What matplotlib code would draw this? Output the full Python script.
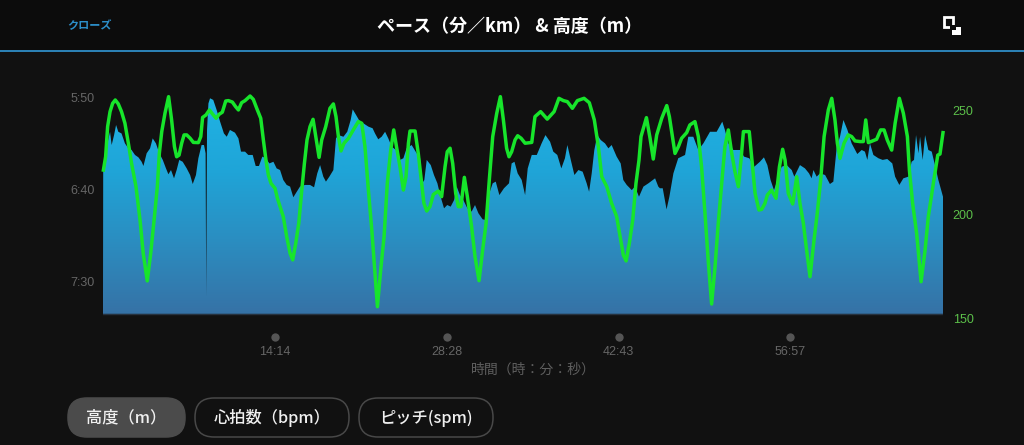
import matplotlib
matplotlib.use("Agg")
import matplotlib.pyplot as plt
import numpy as np
from matplotlib.patches import FancyBboxPatch, Rectangle
from matplotlib.colors import LinearSegmentedColormap

plt.rcParams['font.family'] = ['Noto Sans CJK JP', 'DejaVu Sans']

title = "ペース（分／km） & 高度（m）"
close_label = "クローズ"
xlabel = "時間（時：分：秒）"
tab_labels = ["高度（m）", "心拍数（bpm）", "ピッチ(spm)"]
pace_ticks = [350, 400, 450]
pace_tick_labels = ["5:50", "6:40", "7:30"]
elev_ticks = [150, 200, 250]
time_ticks = [854, 1708, 2563, 3417]
time_tick_labels = ["14:14", "28:28", "42:43", "56:57"]
pace_base = 466.8

pace_t = [0,1,10,22,35,43,55,65,76,92,109,126,142,159,176,192,201,217,234,247,263,280,297,313,325,338,353,366,379,396,416,433,446,462,474,490,502,510,513,517,524,532,548,565,582,601,615,631,656,673,686,706,722,744,759,775,792,809,827,847,863,880,896,913,930,946,963,979,1004,1029,1049,1065,1079,1095,1108,1125,1145,1158,1170,1195,1214,1231,1241,1258,1277,
1294,1319,1340,1352,1368,1385,1402,1418,1435,1456,1476,1493,1509,1534,1559,1576,1587,1597,1609,1629,1645,1662,1678,1695,1711,1728,1745,1758,1774,1791,1811,1832,1849,1866,1887,1907,1920,1937,1952,1970,1993,2018,2031,2045,2061,2081,2098,2111,2131,2156,2180,2199,2222,2238,2258,2278,2296,2308,2325,2343,2363,2384,2404,2416,2429,2442,2457,2474,2495,2512,2528,2553,2573,2586,2603,2628,2644,2664,2686,2711,2744,2760,
2768,2782,2801,2815,2835,2859,2893,2909,2934,2959,2984,3017,3050,3078,3091,3108,3133,3166,3186,3212,3237,3265,3285,3302,3318,3335,3352,3373,3398,3423,3436,3464,3489,3509,3522,3531,3547,3564,3589,3613,3630,3647,3663,3680,3700,3721,3749,3771,3787,3799,3812,3829,3854,3875,3898,3923,3937,3958,3978,4003,4019,4031,4041,4053,4061,4074,4086,4102,4119,4135,4152,4175]
pace_v = [457.4,387.7,386.8,374.1,367.8,375,369.6,364.1,367.8,368.7,374.1,376.8,377.7,380.4,381.7,384.1,386.4,379.5,376.8,371.4,374.1,379.5,383.1,387.7,390.9,388.6,393.1,388.6,383.1,384.1,387.7,391.3,396.2,391.3,382.2,375,375,379.5,457.4,366.8,352.4,349.6,350.5,356,362.3,368.7,370.5,366.8,368.3,371.4,378.6,378.6,380.4,380.4,386.4,386.4,381.3,382.2,385,384.1,387.7,388.6,394,396.7,397.6,403.4,400.4,397.6,396.7,396.7,398,390.4,385.9,392.2,394.9,392.2,388.6,371.4,369.6,370.5,367.8,361.4,355.6,358.7,362.3,
363.2,365,365.9,368.7,371.9,370.5,367.8,371.4,375.9,377.7,383.1,382.2,376.8,375,379.5,382.2,395.8,394,383.1,385.9,391.3,395.8,403.1,409.4,407.6,408.5,404.9,397.6,402.2,404.9,409.4,411.2,407.6,412.1,415.4,415.8,401.3,395.8,394.9,402.2,398.5,395.8,385,384.1,390.4,394,402.2,387.7,380.4,380.4,374.1,369.6,373.2,378.6,380.4,387.7,382.2,375,383.1,391.3,388.6,389.5,395.8,400.4,390.4,377.7,369.6,372.3,374.1,376.8,375,381.3,385,394,396.7,399.5,397.6,403.1,397.6,395.8,393.1,397.6,
398.5,398.5,410,403.1,390.4,382.2,380.4,370.5,370.5,377.7,374.1,367.8,367.8,362.3,366.8,374.1,377.7,377.7,381.3,382.2,386.8,384.1,381.7,385.9,394,399.5,394,386.8,385.9,388.6,392.2,385.9,387.7,390.4,393.1,388.6,392.2,390.4,391.3,396.2,394.9,375.9,370.5,361.4,366.8,374.1,379.9,377.7,378.6,383.1,374.1,380.4,382.2,383.1,382.6,385,392.2,396.7,393.1,392.2,384.1,383.1,369.6,379.5,370.5,383.1,369.6,377.7,378.6,385.9,394,403.1]

elev_t = [2,13,23,35,48,61,76,92,109,126,142,164,184,200,220,237,254,270,280,292,308,326,341,355,366,378,391,403,416,433,449,474,486,495,512,529,545,562,578,593,610,623,643,659,673,689,706,731,747,764,784,797,810,822,835,855,867,883,896,913,930,943,958,973,988,1001,1014,1029,1044,1059,1074,1087,1107,1128,1145,1158,1170,1183,1198,1220,1244,1269,1286,1302,1319,1336,1352,1364,
1380,1397,1413,1430,1445,1460,1476,1493,1506,1518,1526,1551,1567,1584,1595,1609,1625,1642,1667,1683,1700,1711,1725,1738,1753,1766,1779,1796,1811,1832,1849,1869,1887,1904,1920,1937,1957,1975,1990,2006,2018,2031,2048,2061,2078,2098,2131,2147,2175,2208,2242,2266,2288,2308,2333,2358,2391,2417,2442,2462,2479,2504,2528,2553,2570,2586,2600,2616,2633,2649,2664,2674,2701,2719,2735,2752,2777,2802,2815,2830,2843,2860,
2876,2901,2917,2942,2959,2975,2992,3009,3025,3042,3058,3075,3091,3108,3125,3141,3158,3171,3183,3212,3224,3241,3260,3274,3290,3302,3323,3345,3362,3378,3390,3406,3428,3448,3464,3481,3497,3514,3534,3550,3567,3584,3605,3622,3638,3650,3663,3683,3704,3721,3738,3763,3779,3791,3804,3845,3865,3882,3898,3920,3937,3958,3978,3998,4008,4024,4044,4066,4086,4102,4127,4149,4160,4175]
elev_v = [222.1,228.5,243,250.2,254.2,255.8,253.9,250.2,244.6,235,225.3,214.1,198.1,182,168.8,182,198.1,214.1,230.1,240.6,249.4,257.4,246.2,233.4,228.5,229.3,235,239,239,237.4,235.4,235.3,238.2,247.4,248.6,251,249,247,249,249.9,255.3,255.5,254.8,252.6,251,254.5,255.5,257.7,256.1,251.8,247,236.6,226.9,219.7,215.7,213.3,208.5,203.7,199.7,190.1,182,178.9,186.9,196.5,212.5,225.3,236.6,243,246.5,237.4,228.2,236.6,243,251.8,253.9,247.8,238.2,231.3,235,237.4,241.4,245.4,244.6,233.4,212.5,193.3,172.4,156.4,
174,190.1,215.7,231.7,241.4,232.6,223.7,212.5,218.9,235,240.9,240.9,230.1,215.7,206.1,202.4,204.5,210.4,212,209.3,223.7,230.9,232.6,225.3,210.9,204.5,204.5,218.6,209.3,194.9,180.5,168.9,183.7,196.5,217.3,238.2,249.4,257.4,246.2,232.6,228.5,230.9,236.6,238.6,237.4,235,235.4,247.8,250.2,246.6,250.2,256.6,255.5,255,251.8,255.5,256.6,254.5,246.2,233.4,218.9,214.1,206.1,199.7,190.1,181.3,178.4,186.9,198.1,215.7,226.9,238.2,247.3,237.4,227.4,239,247,253.1,247.8,238.2,230.1,233.4,
237.4,240.1,243.8,245.4,238.2,223.7,201.3,177.3,157.7,175.7,196.5,215.7,233.4,241.4,230.1,221.3,214.1,226.9,240.6,240.6,228.5,210.9,202.9,203.2,206.1,210.1,212.5,208.5,223.7,232.1,226.9,210.9,205.8,218.9,206.1,196.5,183.7,170.8,188.5,201.3,217.3,238.2,251,256.6,246.2,235,227.7,235,239,238.2,236.1,235.8,235.8,246.2,235.3,236.9,241.4,241.4,236.6,231.7,244.6,256.6,249.4,238.2,222.1,206.1,191.7,168.4,183.7,199.7,215.7,229.3,229.8,240.1]

W, H = 1024, 445
BG = "#111111"
fig = plt.figure(figsize=(W/100, H/100), dpi=100, facecolor=BG)

# page chrome in pixel coordinates
ch = fig.add_axes([0, 0, 1, 1], zorder=0)
ch.set_xlim(0, W); ch.set_ylim(H, 0); ch.axis("off")
ch.add_patch(Rectangle((0, 0), W, 50, fc="#0c0c0c", ec="none"))
ch.add_patch(Rectangle((0, 50), W, 1.8, fc="#2b80b4", ec="none"))
ch.text(89.5, 26, close_label, color="#2c8fc9", fontsize=8, ha="center", va="center", fontweight="bold")
ch.text(510, 26.5, title, color="white", fontsize=13, ha="center", va="center", fontweight="bold")
ch.add_patch(Rectangle((944, 17), 9, 10, fc="none", ec="white", lw=2))
ch.add_patch(Rectangle((952, 27), 9, 8, fc="white", ec="none"))
ch.add_patch(Rectangle((950, 25), 6, 5, fc="#0c0c0c", ec="none"))

buttons = [(68, 185, "#4b4b4b", "#4b4b4b"), (195, 349, BG, "#484848"), (359, 493, BG, "#484848")]
for (x0, x1, fc, ec), lab in zip(buttons, tab_labels):
    ch.add_patch(FancyBboxPatch((x0+19, 398+19), x1-x0-38, 1, boxstyle="round,pad=19,rounding_size=19",
                                fc=fc, ec=ec, lw=1.1))
    ch.text((x0+x1)/2, 418, lab, color="#f0f0f0", fontsize=11.7, ha="center", va="center", fontweight="medium")
ch.text(533, 370, xlabel, color="#5e5e5e", fontsize=10, ha="center", va="center")

# plot axes: pixel box x 103..943, y 90..320
ax = fig.add_axes([103/W, 1-320/H, 840/W, 230/H], zorder=2)
ax.patch.set_alpha(0)
ax.set_xlim(0, 4175)
ax.set_ylim(470.1, 345.1)
for s in ax.spines.values():
    s.set_visible(False)

cmap = LinearSegmentedColormap.from_list("g", ["#1fb3e4", "#1fa5d8", "#2b8dc0", "#3672a6"])
poly = ax.fill_between(pace_t, pace_v, pace_base, color="none", lw=0)
top = min(pace_v)
im = ax.imshow(np.linspace(0, 1, 256).reshape(-1, 1), extent=(0, 4175, pace_base, top), cmap=cmap,
               aspect="auto", zorder=1)
clip = poly.get_paths()[0]
im.set_clip_path(clip, transform=ax.transData)
ax.set_xlim(0, 4175)
ax.set_ylim(470.1, 345.1)
ax.axhline(pace_base, color="#26323f", lw=1.0, zorder=2)

TICK_FONT = "Liberation Sans"
ax.set_yticks(pace_ticks, pace_tick_labels, family=TICK_FONT, va="center")
ax.tick_params(axis="y", length=0, labelcolor="#666666", labelsize=9, pad=6)
ax.set_xticks(time_ticks, time_tick_labels, family=TICK_FONT)
ax.tick_params(axis="x", length=0, labelcolor="#666666", labelsize=9, pad=19)
ax.scatter(time_ticks, [-17/230]*4, s=36, color="#555555", transform=ax.get_xaxis_transform(), clip_on=False, lw=0)

ax2 = ax.twinx()
ax2.patch.set_alpha(0)
ax2.set_ylim(150, 260.6)
for s in ax2.spines.values():
    s.set_visible(False)
ax2.plot(elev_t, elev_v, color="#17e52b", lw=2.5, solid_joinstyle="round", zorder=5, clip_on=False)
ax2.set_yticks(elev_ticks, [str(v) for v in elev_ticks], family=TICK_FONT, va="center")
ax2.tick_params(axis="y", length=0, labelcolor="#5cc04a", labelsize=9, pad=7)

fig.savefig("out.png", dpi=100, facecolor=BG)
